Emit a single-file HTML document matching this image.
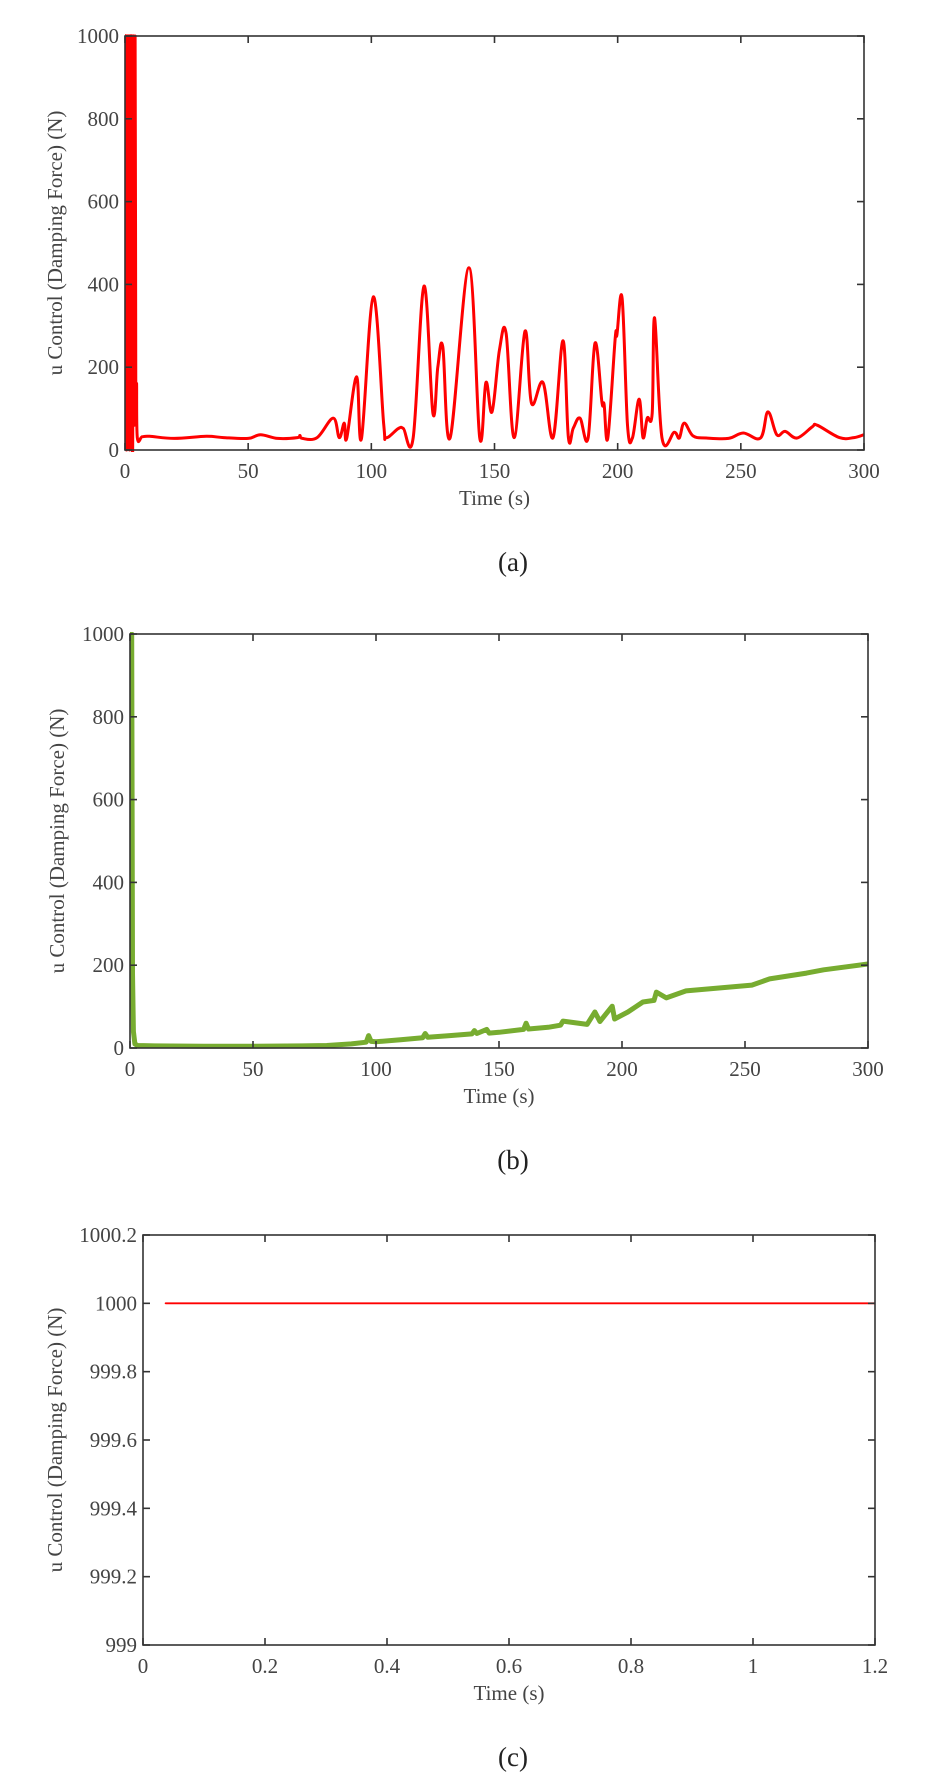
<!DOCTYPE html>
<html><head><meta charset="utf-8"><style>
html,body{margin:0;padding:0;background:#fff;}
svg{display:block;font-family:"Liberation Serif",serif;}
.tick{font-size:21px;fill:#444;}
.axlab{font-size:21px;fill:#444;}
.cap{font-size:27px;fill:#222;}
</style></head><body>
<svg id="fig" width="931" height="1792" viewBox="0 0 931 1792" xmlns="http://www.w3.org/2000/svg"></svg>
<script>
// Chart (a) data
const aTimes = [0,0.3,0.6,0.9,1.2,1.5,1.8,2.1,2.4,2.7,3.0,3.2,3.5,3.8,4.1,4.4,4.7,5,7,10,20,33,40,50,55,62,70,71,72,78,84.5,87,89,90,94,96,100.8,105,106,111,113,117,121.4,125,127,129,132,139.6,144,146.5,149,152,154.7,158,162.4,165,169.7,173.8,177.8,180,182,184.7,188,190.8,193.6,194.5,196,199,199.7,201.8,204,206,208.7,210.3,212,214,215,218,223,225,227,230.6,236,245,251,258,261,264.6,268,272.8,279,281,290,296,300];
const aValues = [150,1000,0,1000,120,1000,0,1000,150,1000,0,152,1000,60,1000,120,160,30,32,33,28,33,30,28,37,28,30,35,28,30,77,30,65,28,177,28,370,65,30,52,52,30,396,89,200,249,30,440,30,163,92,241,282,30,287,113,163,30,264,30,53,77,29,258,116,110,29,270,278,367,60,29,123,30,77,89,319,29,43,29,65,34,29,28,41,29,92,37,45,29,56,60,30,30,37];
// Chart (b) data
const bTimes = [0,0.3,0.7,1.0,1.4,2,3,10,30,50,70,80,90,96,97,98,100,110,119,120,121,130,139,140,141,145,146,150,160,161,162,170,175,176,185.8,189,191,196,197,202.4,208.5,213,214,218,226,252.8,260,275,282,300];
const bValues = [1000,200,1000,180,40,10,6,5,4,4,5,6,10,14,30,16,15,20,25,35,26,30,34,42,35,45,36,38,45,60,46,50,55,65,57,87,64,101,70,87,111,115,135,121,138,152,167,181,189,203];
// Chart (c) data
const cTimes = [0.037,1.2];
const cValues = [1000,1000];

const yTicksAB = [0,200,400,600,800,1000];
const xTicksAB = [0,50,100,150,200,250,300];
const yTicksC = [999,999.2,999.4,999.6,999.8,1000,1000.2];
const yTickLabelsC = ['999','999.2','999.4','999.6','999.8','1000','1000.2'];
const xTicksC = [0,0.2,0.4,0.6,0.8,1,1.2];

const NS='http://www.w3.org/2000/svg';
const svg=document.getElementById('fig');
function mk(tag,attrs,parent){const e=document.createElementNS(NS,tag);for(const k in attrs)e.setAttribute(k,attrs[k]);(parent||svg).appendChild(e);return e;}

function smoothPath(pts){
  if(pts.length<3){return pts.map((p,i)=>(i?'L':'M')+p[0].toFixed(1)+','+p[1].toFixed(1)).join('');}
  let d='M'+pts[0][0].toFixed(1)+','+pts[0][1].toFixed(1);
  const k=0.18;
  for(let i=0;i<pts.length-1;i++){
    const p0=pts[i-1]||pts[i],p1=pts[i],p2=pts[i+1],p3=pts[i+2]||p2;
    const c1=[p1[0]+(p2[0]-p0[0])*k,p1[1]+(p2[1]-p0[1])*k];
    const c2=[p2[0]-(p3[0]-p1[0])*k,p2[1]-(p3[1]-p1[1])*k];
    d+='C'+c1[0].toFixed(1)+','+c1[1].toFixed(1)+' '+c2[0].toFixed(1)+','+c2[1].toFixed(1)+' '+p2[0].toFixed(1)+','+p2[1].toFixed(1);
  }
  return d;
}

function chart(o){
  const g=mk('g',{});
  
  
  const {L,R,T,B,xmin,xmax,ymin,ymax}=o;
  const sx=v=>L+(v-xmin)/(xmax-xmin)*(R-L);
  const sy=v=>B-(v-ymin)/(ymax-ymin)*(B-T);
  const cid='clip-'+o.name;
  const cp=mk('clipPath',{id:cid},g);
  mk('rect',{x:L,y:T-2,width:R-L,height:B-T+4},cp);
  const pts=o.xs.map((t,i)=>[sx(t),sy(o.ys[i])]);
  const d=o.smooth?smoothPath(pts):pts.map((p,i)=>(i?'L':'M')+p[0].toFixed(1)+','+p[1].toFixed(1)).join('');
  const line=mk('path',{d:d,fill:'none',stroke:o.color,'stroke-width':o.lw,'stroke-linejoin':'round','stroke-linecap':'round','clip-path':'url(#'+cid+')'},g);
  
  
  const box=mk('rect',{x:L,y:T,width:R-L,height:B-T,fill:'none',stroke:'#333','stroke-width':1.6},g);
  
  
  o.xt.forEach((v,i)=>{
    const x=sx(v);
    mk('line',{x1:x,y1:B,x2:x,y2:B-7,stroke:'#333','stroke-width':1.6},g);
    mk('line',{x1:x,y1:T,x2:x,y2:T+7,stroke:'#333','stroke-width':1.6},g);
    const t=mk('text',{x:x,y:B+28,'text-anchor':'middle',class:'tick'},g);
    t.textContent=String(v);
    
    
  });
  o.yt.forEach((v,i)=>{
    const y=sy(v);
    mk('line',{x1:L,y1:y,x2:L+7,y2:y,stroke:'#333','stroke-width':1.6},g);
    mk('line',{x1:R,y1:y,x2:R-7,y2:y,stroke:'#333','stroke-width':1.6},g);
    const t=mk('text',{x:L-6,y:y+7,'text-anchor':'end',class:'tick'},g);
    t.textContent=o.ytl?o.ytl[i]:String(v);
    
    
  });
  const xl=mk('text',{x:(L+R)/2,y:B+55,'text-anchor':'middle',class:'axlab'},g);
  xl.textContent='Time (s)';
  
  
  const yx=o.ylx, yy=(T+B)/2;
  const yl=mk('text',{x:yx,y:yy,'text-anchor':'middle',class:'axlab',transform:'rotate(-90 '+yx+' '+yy+')'},g);
  yl.textContent='u Control (Damping Force) (N)';
  
  
  const cap=mk('text',{x:513,y:B+121,'text-anchor':'middle',class:'cap'},g);
  cap.textContent=o.cap;
  
  
}

chart({name:'chart-a',L:125,R:864,T:36,B:450,xmin:0,xmax:300,ymin:0,ymax:1000,xs:aTimes,ys:aValues,color:'#ff0000',lw:3,xt:xTicksAB,yt:yTicksAB,ylx:62,cap:'(a)',smooth:true});
chart({name:'chart-b',L:130,R:868,T:634,B:1048,xmin:0,xmax:300,ymin:0,ymax:1000,xs:bTimes,ys:bValues,color:'#77ac30',lw:5,xt:xTicksAB,yt:yTicksAB,ylx:64,cap:'(b)',smooth:false});
chart({name:'chart-c',L:143,R:875,T:1235,B:1645,xmin:0,xmax:1.2,ymin:999,ymax:1000.2,xs:cTimes,ys:cValues,color:'#ff0000',lw:1.8,xt:xTicksC,yt:yTicksC,ytl:yTickLabelsC,ylx:62,cap:'(c)',smooth:false});
</script>
</body></html>
